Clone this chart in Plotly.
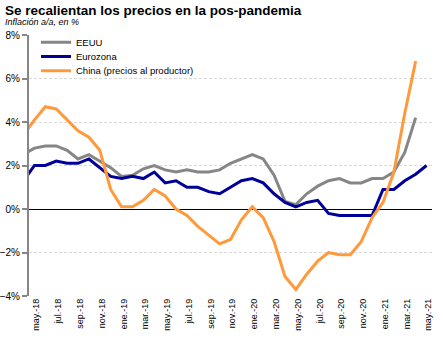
import plotly.graph_objects as go

meses = ["abr.-18", "may.-18", "jun.-18", "jul.-18", "ago.-18", "sep.-18", "oct.-18", "nov.-18", "dic.-18",
         "ene.-19", "feb.-19", "mar.-19", "abr.-19", "may.-19", "jun.-19", "jul.-19", "ago.-19", "sep.-19",
         "oct.-19", "nov.-19", "dic.-19",
         "ene.-20", "feb.-20", "mar.-20", "abr.-20", "may.-20", "jun.-20", "jul.-20", "ago.-20", "sep.-20",
         "oct.-20", "nov.-20", "dic.-20",
         "ene.-21", "feb.-21", "mar.-21", "abr.-21", "may.-21"]

eeuu = [2.5, 2.8, 2.9, 2.9, 2.7, 2.3, 2.5, 2.2, 1.9,
        1.5, 1.55, 1.85, 2.0, 1.8, 1.7, 1.8, 1.7, 1.7, 1.8, 2.1, 2.3,
        2.5, 2.3, 1.55, 0.35, 0.2, 0.7, 1.05, 1.3, 1.4, 1.2, 1.2, 1.4,
        1.4, 1.7, 2.6, 4.2, None]

eurozona = [1.3, 2.0, 2.0, 2.2, 2.1, 2.1, 2.3, 1.9, 1.5,
            1.4, 1.5, 1.4, 1.7, 1.2, 1.3, 1.0, 1.0, 0.8, 0.7, 1.0, 1.3,
            1.4, 1.2, 0.7, 0.3, 0.1, 0.3, 0.4, -0.2, -0.3, -0.3, -0.3, -0.3,
            0.9, 0.9, 1.3, 1.6, 2.0]

china = [3.4, 4.1, 4.7, 4.6, 4.1, 3.6, 3.3, 2.7, 0.9,
         0.1, 0.1, 0.4, 0.9, 0.6, 0.0, -0.3, -0.8, -1.2, -1.6, -1.4, -0.5,
         0.1, -0.4, -1.5, -3.1, -3.7, -3.0, -2.4, -2.0, -2.1, -2.1, -1.5, -0.4,
         0.3, 1.7, 4.4, 6.8, None]

series = [("EEUU", eeuu, "#868686", "legend"),
          ("Eurozona", eurozona, "#000099", "legend2"),
          ("China (precios al productor)", china, "#FF9A3C", "legend3")]

# x positions: index relative to may.-18 (first labelled month)
xs = list(range(-1, len(meses) - 1))
tick_idx = list(range(0, len(meses) - 1, 2))
tick_txt = [meses[i + 1] for i in tick_idx]

W, H = 443, 341
L, R, T, B = 29, 11, 35, 45
PW, PH = W - L - R, H - T - B


def py(ypx):
    return (H - B - ypx) / PH


def px(xpx):
    return (xpx - L) / PW


fig = go.Figure()
for name, vals, col, lg in series:
    fig.add_trace(go.Scatter(x=xs, y=vals, name=name, mode="lines",
                             line=dict(color=col, width=3), legend=lg))

font = "Liberation Sans, Arial, sans-serif"
legend_common = dict(x=px(36), xanchor="left", yanchor="middle", bgcolor="rgba(0,0,0,0)",
                     font=dict(family=font, size=9.5, color="#000000"), borderwidth=0)

fig.update_layout(
    width=W, height=H,
    margin=dict(l=L, r=R, t=T, b=B, autoexpand=False),
    paper_bgcolor="white", plot_bgcolor="white",
    showlegend=True,
    legend=dict(y=py(42.3), **legend_common),
    legend2=dict(y=py(56.5), **legend_common),
    legend3=dict(y=py(70.7), **legend_common),
    xaxis=dict(range=[-0.5, len(meses) - 1.5], tickmode="array", tickvals=tick_idx, ticktext=tick_txt,
               tickangle=-90, showgrid=False, zeroline=False, showline=False, ticks="",
               ticklabelshift=2, automargin=False,
               tickfont=dict(family=font, size=9, color="#000000")),
    yaxis=dict(range=[-4, 8], dtick=2, ticksuffix="%", showgrid=True, gridcolor="#d9d9d9",
               griddash="3px,2px", gridwidth=1, zeroline=True, zerolinecolor="#000000", zerolinewidth=1,
               showline=True, linecolor="#868686", linewidth=2, ticks="outside", ticklen=5,
               tickcolor="#868686", tickwidth=2, automargin=False,
               tickfont=dict(family=font, size=10, color="#000000")),
    annotations=[
        dict(text="<b>Se recalientan los precios en la pos-pandemia</b>", xref="paper", yref="paper",
             x=px(3), y=py(10), xanchor="left", yanchor="middle", showarrow=False,
             font=dict(family="Liberation Sans Narrow, Liberation Sans, Arial", size=13.5, color="#000000")),
        dict(text="<i>Inflación a/a, en %</i>", xref="paper", yref="paper",
             x=px(3), y=py(22), xanchor="left", yanchor="middle", showarrow=False,
             font=dict(family=font, size=9, color="#000000")),
    ],
)

fig.write_html("out.html")
